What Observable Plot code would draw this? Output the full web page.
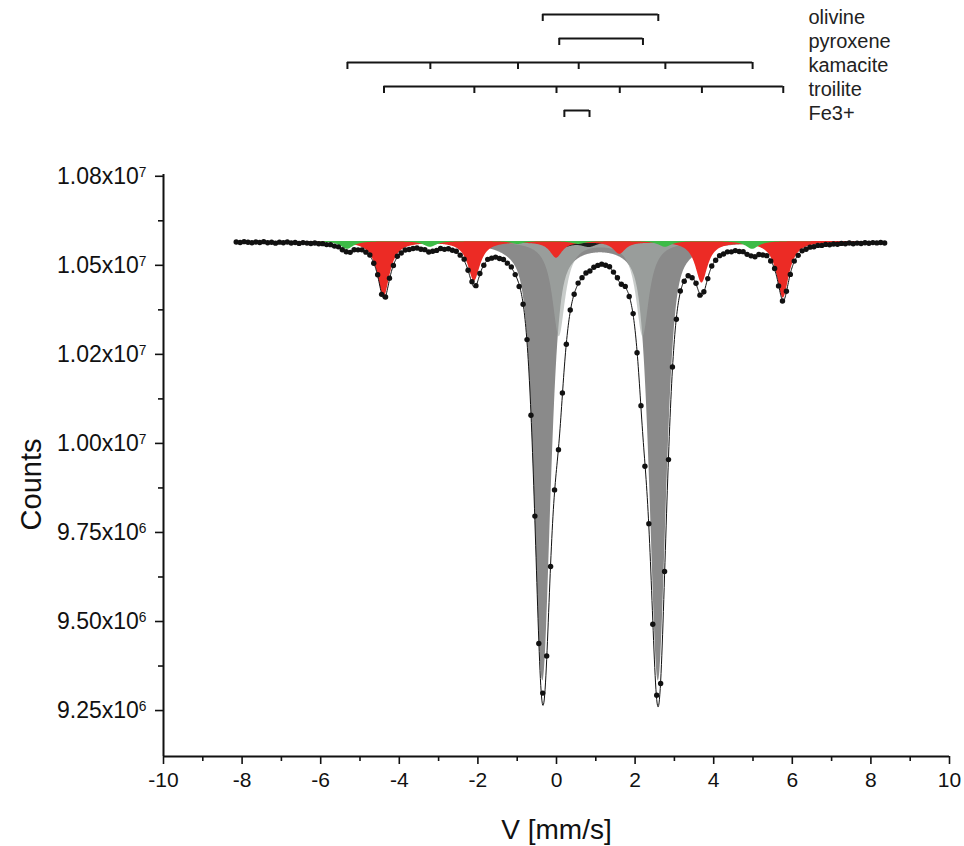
<!DOCTYPE html>
<html><head><meta charset="utf-8">
<script src="https://cdn.jsdelivr.net/npm/d3@7"></script>
<script src="https://cdn.jsdelivr.net/npm/@observablehq/plot@0.6"></script>
<style>
html,body{margin:0;padding:0;background:#fff;}
#chart{width:964px;height:846px;position:relative;overflow:hidden;}
#chart svg{display:block;}
</style></head><body><div id="chart"></div>
<script>
// ---- measured spectrum (velocity in mm/s, counts) ----
const velocity = [
-8.15,-8.05,-7.95,-7.85,-7.75,-7.65,-7.55,-7.45,-7.35,-7.25,
-7.15,-7.05,-6.95,-6.85,-6.75,-6.65,-6.55,-6.45,-6.35,-6.25,
-6.15,-6.05,-5.95,-5.85,-5.75,-5.65,-5.55,-5.45,-5.35,-5.25,
-5.15,-5.05,-4.95,-4.85,-4.75,-4.65,-4.55,-4.45,-4.35,-4.25,
-4.15,-4.05,-3.95,-3.85,-3.75,-3.65,-3.55,-3.45,-3.35,-3.25,
-3.15,-3.05,-2.95,-2.85,-2.75,-2.65,-2.55,-2.45,-2.35,-2.25,
-2.15,-2.05,-1.95,-1.85,-1.75,-1.65,-1.55,-1.45,-1.35,-1.25,
-1.15,-1.05,-0.95,-0.85,-0.75,-0.65,-0.55,-0.45,-0.35,-0.25,
-0.15,-0.05,0.05,0.15,0.25,0.35,0.45,0.55,0.65,0.75,
0.85,0.95,1.05,1.15,1.25,1.35,1.45,1.55,1.65,1.75,
1.85,1.95,2.05,2.15,2.25,2.35,2.45,2.55,2.65,2.75,
2.85,2.95,3.05,3.15,3.25,3.35,3.45,3.55,3.65,3.75,
3.85,3.95,4.05,4.15,4.25,4.35,4.45,4.55,4.65,4.75,
4.85,4.95,5.05,5.15,5.25,5.35,5.45,5.55,5.65,5.75,
5.85,5.95,6.05,6.15,6.25,6.35,6.45,6.55,6.65,6.75,
6.85,6.95,7.05,7.15,7.25,7.35,7.45,7.55,7.65,7.75,
7.85,7.95,8.05,8.15,8.25,8.35];
const counts = [
10565600,10564000,10566500,10564900,10563300,10565700,10564100,10566500,10563400,10564800,
10562200,10565100,10563500,10565300,10562600,10563900,10561600,10563800,10562400,10561100,
10562700,10560600,10560800,10558200,10558100,10554000,10551900,10543600,10538000,10536500,
10543600,10543400,10543500,10537000,10529200,10506000,10473600,10418500,10411100,10464000,
10499700,10525400,10534400,10543100,10544300,10547100,10548800,10545200,10544000,10537600,
10539600,10541900,10547200,10544900,10546400,10542300,10539600,10528600,10517300,10486300,
10454200,10443000,10477200,10500400,10516800,10520200,10523100,10519100,10516300,10506100,
10495600,10474000,10440400,10390600,10291500,10079000,9796000,9438300,9299000,9403400,
9654400,9869500,9982200,10141800,10278500,10374500,10418900,10450100,10465400,10478400,
10484200,10494500,10499800,10503300,10500100,10496100,10481000,10465100,10446900,10440800,
10412400,10364400,10254700,10106100,9936100,9774600,9492400,9293200,9326100,9640700,
9954600,10214700,10348800,10427900,10455300,10470900,10465300,10449600,10416200,10425800,
10462700,10498300,10514400,10527100,10531700,10537800,10537900,10541300,10538900,10538400,
10530800,10526600,10524000,10530300,10529100,10527100,10512300,10491000,10442200,10400000,
10427300,10474500,10511900,10528000,10540600,10545000,10551100,10552000,10556000,10556000,
10558700,10557700,10559900,10559000,10561500,10560400,10562800,10560600,10562400,10561200,
10563400,10562100,10563800,10563000,10564200,10562800];

// ---- fitted sub-spectra: line positions (mm/s), depths (counts), half widths ----
const phaseNames = ["olivine", "pyroxene", "kamacite", "troilite", "Fe3+"];
const olivineLines  = [-0.35, 2.59];
const pyroxeneLines = [0.07, 2.20];
const kamaciteLines = [-5.32, -3.21, -0.98, 0.565, 2.77, 4.99];
const troiliteLines = [-4.39, -2.09, 0.00, 1.61, 3.70, 5.77];
const fe3Lines      = [0.20, 0.84];
const olivineDepth  = [1230000, 1230000];
const pyroxeneDepth = [265000, 265000];
const kamaciteDepth = [22000, 16000, 8000, 8000, 16000, 22000];
const troiliteDepth = [155000, 110000, 45000, 34000, 115000, 158000];
const fe3Depth      = [15000, 15000];
const halfWidth = {olivine: 0.24, pyroxene: 0.20, kamacite: 0.20, troilite: 0.19, fe3: 0.25};
const olivineLorentzShare = 0.5;
const baselineCounts = 10567000;

// ---- axis ticks ----
const xTicks = [-10, -8, -6, -4, -2, 0, 2, 4, 6, 8, 10];
const xMinorTicks = [-9, -7, -5, -3, -1, 1, 3, 5, 7, 9];
const yTickValues = [9250000, 9500000, 9750000, 10000000, 10250000, 10500000, 10750000];
const yTickLabels = ["9.25x10^6", "9.50x10^6", "9.75x10^6", "1.00x10^7", "1.02x10^7", "1.05x10^7", "1.08x10^7"];
const yMinorTicks = [9375000, 9625000, 9875000, 10125000, 10375000, 10625000];
const xLabel = "V [mm/s]";
const yLabel = "Counts";

// ---- build curves ----
const lor = (d, w) => 1 / (1 + (d / w) * (d / w));
const pv = (d, w, eta) => eta * lor(d, w) + (1 - eta) * Math.exp(-Math.LN2 * (d / w) * (d / w));
const comps = [
  {key: "olivine", lines: olivineLines, depth: olivineDepth, prof: d => pv(d, halfWidth.olivine, olivineLorentzShare)},
  {key: "pyroxene", lines: pyroxeneLines, depth: pyroxeneDepth, prof: d => lor(d, halfWidth.pyroxene)},
  {key: "fe3", lines: fe3Lines, depth: fe3Depth, prof: d => lor(d, halfWidth.fe3)},
  {key: "troilite", lines: troiliteLines, depth: troiliteDepth, prof: d => lor(d, halfWidth.troilite)},
  {key: "kamacite", lines: kamaciteLines, depth: kamaciteDepth, prof: d => lor(d, halfWidth.kamacite)}
];
const grid = d3.range(-8.15, 8.3501, 0.01);
const absorb = (c, v) => d3.sum(c.lines, (p, i) => c.depth[i] * c.prof(v - p));
const curves = {};
for (const c of comps) curves[c.key] = grid.map(v => ({v, y: baselineCounts - absorb(c, v)}));
const total = grid.map(v => ({v, y: baselineCounts - d3.sum(comps, c => absorb(c, v))}));
const observed = velocity.map((v, i) => ({v, c: counts[i]}));

const font = "'Liberation Sans', Arial, Helvetica, sans-serif";
const X0 = -10, X1 = 10, Y0 = 9121000, Y1 = 10755000;

// ---- top stick diagram ----
const sticks = [olivineLines, pyroxeneLines, kamaciteLines, troiliteLines, fe3Lines];
const rowY = i => 14 + 24 * i;
const phaseRows = phaseNames.map((name, i) => ({name, y: rowY(i), x1: d3.min(sticks[i]), x2: d3.max(sticks[i])}));
const stickTicks = sticks.flatMap((arr, i) => arr.map(x => ({x, y: rowY(i)})));

const topPlot = Plot.plot({
  width: 964, height: 130, marginLeft: 163, marginRight: 15, marginTop: 0, marginBottom: 0,
  x: {domain: [X0, X1], axis: null},
  y: {domain: [0, 130], range: [0, 130], axis: null},
  style: {fontFamily: font, background: "transparent", overflow: "visible", color: "#111"},
  marks: [
    Plot.ruleY(phaseRows, {y: "y", x1: "x1", x2: "x2", stroke: "#151515", strokeWidth: 2}),
    Plot.ruleX(stickTicks, {x: "x", y1: "y", y2: d => d.y + 7, stroke: "#151515", strokeWidth: 2}),
    Plot.text(phaseRows, {x: 6.41, y: "y", text: "name", textAnchor: "start", dy: 3, fontSize: 20, fill: "#222"})
  ]
});

// ---- main chart ----
const mainPlot = Plot.plot({
  width: 964, height: 716, marginLeft: 163, marginRight: 15, marginTop: 44, marginBottom: 90,
  x: {domain: [X0, X1]},
  y: {domain: [Y0, Y1]},
  style: {fontFamily: font, fontSize: "21px", background: "transparent", overflow: "visible", color: "#111"},
  marks: [
    Plot.areaY(curves.olivine, {x: "v", y1: baselineCounts, y2: "y", fill: "#8a8a8a"}),
    Plot.areaY(curves.pyroxene, {x: "v", y1: baselineCounts, y2: "y", fill: "#a3aaa7", fillOpacity: 0.6}),
    Plot.areaY(curves.fe3, {x: "v", y1: baselineCounts, y2: "y", fill: "#1c1c1c"}),
    Plot.areaY(curves.troilite, {x: "v", y1: baselineCounts, y2: "y", fill: "#ec2b25"}),
    Plot.areaY(curves.kamacite, {x: "v", y1: baselineCounts, y2: "y", fill: "#3dbb47"}),
    Plot.line(total, {x: "v", y: "y", stroke: "#111", strokeWidth: 1}),
    Plot.dot(observed, {x: "v", y: "c", r: 2.7, fill: "#111"}),
    Plot.axisX(xTicks, {tickSize: 8, tickPadding: 8, tickFormat: d => String(d), label: null, strokeWidth: 1.6, fontSize: 21}),
    Plot.axisX(xMinorTicks, {tickSize: 5, tickFormat: () => "", label: null, strokeWidth: 1.6}),
    Plot.axisY(yTickValues, {tickSize: 8, tickPadding: 9, tickFormat: d => yTickLabels[yTickValues.indexOf(d)], label: null, strokeWidth: 1.6, fontSize: 23}),
    Plot.axisY(yMinorTicks, {tickSize: 5, tickFormat: () => "", label: null, strokeWidth: 1.6}),
    Plot.ruleX([X0], {stroke: "#111", strokeWidth: 2}),
    Plot.ruleY([Y0], {stroke: "#111", strokeWidth: 2}),
    Plot.text([yLabel], {frameAnchor: "left", dx: -132, dy: 19, rotate: -90, textAnchor: "middle", lineAnchor: "middle", fontSize: 29}),
    Plot.text([xLabel], {frameAnchor: "bottom", dy: 74, textAnchor: "middle", lineAnchor: "middle", fontSize: 28})
  ]
});

// superscript exponents in y tick labels
const NS = "http://www.w3.org/2000/svg";
mainPlot.querySelectorAll("text").forEach(t => {
  const s = t.textContent;
  if (s.includes("^")) {
    const [b, e] = s.split("^");
    t.textContent = b;
    const ts = document.createElementNS(NS, "tspan");
    ts.setAttribute("dy", "-0.5em");
    ts.setAttribute("font-size", "0.6em");
    ts.textContent = e;
    t.appendChild(ts);
  }
});

const host = document.getElementById("chart");
host.appendChild(topPlot);
host.appendChild(mainPlot);
</script>
</body></html>
